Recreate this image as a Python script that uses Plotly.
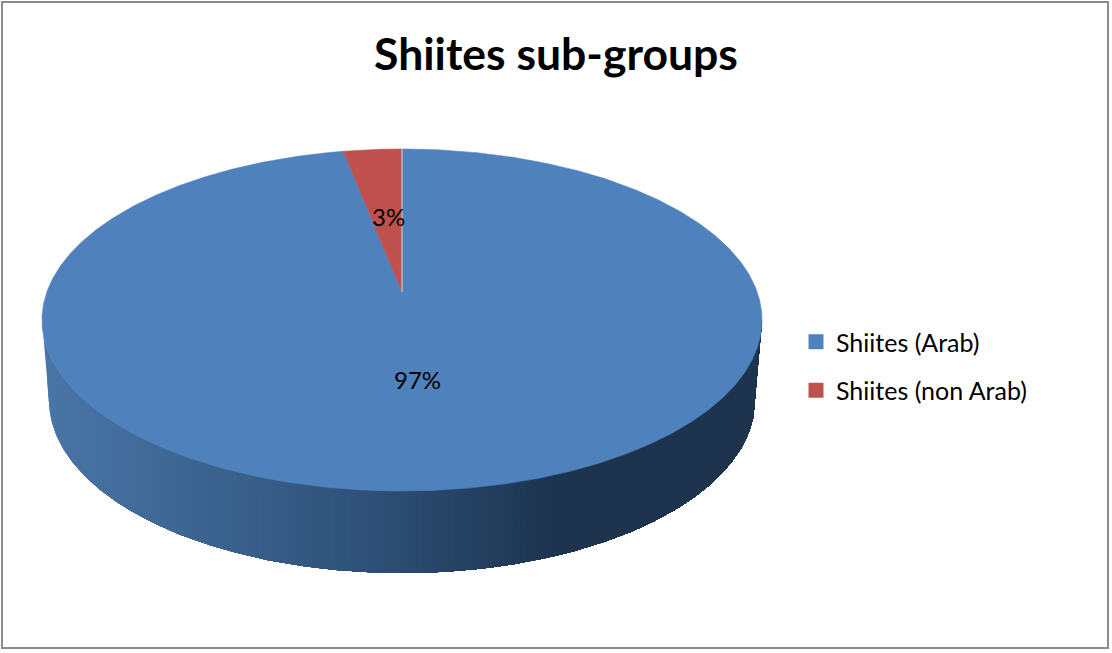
import numpy as np
import plotly.graph_objects as go

title = "Shiites sub-groups"
categories = ["Shiites (Arab)", "Shiites (non Arab)"]
values = [97.4, 2.6]
colors = ["#4f81bd", "#c0504d"]
wall_stops = [(0.0, "#4a76a8"), (0.45, "#2f5178"), (0.72, "#1d334e"), (1.0, "#1d334e")]

W, H = 1112, 653
CX, CY, RX, RY = 402, 320, 360, 171      # top face
BY, BRX, BRY = 400, 353, 173             # bottom rim
TIP_Y = 292                              # perspective centre of the top face


def hex_rgb(h):
    return np.array([int(h[i:i + 2], 16) for i in (1, 3, 5)], float)


def wall_color(f):
    for (a, ca), (b, cb) in zip(wall_stops, wall_stops[1:]):
        if f <= b:
            k = (f - a) / (b - a)
            c = hex_rgb(ca) * (1 - k) + hex_rgb(cb) * k
            return "rgb(%d,%d,%d)" % tuple(c)
    return wall_stops[-1][1]


def wall_top(x):
    return CY + RY * np.sqrt(np.clip(1 - ((x - CX) / RX) ** 2, 0, 1))


def wall_bottom(x):
    d = np.abs(x - CX)
    ell = BY + BRY * np.sqrt(np.clip(1 - (d / BRX) ** 2, 0, 1))
    side = CY + (RX - d) / (RX - BRX) * (BY - CY)
    return np.where(d <= BRX, ell, side)


fig = go.Figure()

# side wall: overlapping layers, each reaching the right edge, so no seams show
n = 140
starts = np.linspace(CX - RX, CX + RX, n, endpoint=False)
outline = CX + RX * np.sin(np.linspace(-np.pi / 2, np.pi / 2, 361))
for x0 in starts:
    xs = np.r_[x0, outline[outline > x0]]
    c = wall_color((x0 - (CX - RX)) / (2 * RX))
    fig.add_trace(go.Scatter(
        x=np.r_[xs, xs[::-1]], y=np.r_[wall_top(xs), wall_bottom(xs)[::-1]],
        mode="lines", fill="toself", fillcolor=c, line=dict(width=0),
        hoverinfo="skip", showlegend=False))

# top face: angles come from the values, clockwise from 12 o'clock
total = sum(values)
small = values[1] / total * 2 * np.pi


def arc(a0, a1, k=400):
    a = np.linspace(a0, a1, k)
    return CX + RX * np.sin(a), CY - RY * np.cos(a)


xa, ya = arc(0, 2 * np.pi - small, 800)
fig.add_trace(go.Scatter(
    x=np.r_[CX, xa, CX], y=np.r_[TIP_Y, ya, TIP_Y], mode="lines", fill="toself",
    fillcolor=colors[0], line=dict(width=0.6, color=colors[0]),
    hoverinfo="skip", showlegend=False))

xb_, yb_ = arc(2 * np.pi - small, 2 * np.pi, 40)
fig.add_trace(go.Scatter(
    x=np.r_[CX, xb_, CX], y=np.r_[TIP_Y, yb_, TIP_Y], mode="lines", fill="toself",
    fillcolor=colors[1], line=dict(width=0.6, color=colors[1]),
    hoverinfo="skip", showlegend=False))

# light divider at 12 o'clock
fig.add_trace(go.Scatter(
    x=[CX, CX], y=[TIP_Y, CY - RY], mode="lines",
    line=dict(width=1.2, color="#b9cbe2"), hoverinfo="skip", showlegend=False))

# legend entries
for i, (name, col) in enumerate(zip(categories, colors)):
    fig.add_trace(go.Scatter(
        x=[-100], y=[-100], mode="markers", name=name, legendgroup=name,
        marker=dict(symbol="square", size=15, color=col)))

# percentage labels
fig.add_annotation(x=417, y=379, text=f"{values[0]:.0f}%", showarrow=False,
                   font=dict(family="Lato", size=24, color="black"))
fig.add_annotation(x=388, y=216, text=f"{values[1]:.0f}%", showarrow=False,
                   font=dict(family="Lato", size=24, color="black"))

fig.update_layout(
    width=W, height=H, margin=dict(l=0, r=0, t=0, b=0),
    paper_bgcolor="white", plot_bgcolor="white",
    xaxis=dict(range=[0, W], visible=False, fixedrange=True),
    yaxis=dict(range=[H, 0], visible=False, fixedrange=True),
    title=dict(text=f"<b>{title}</b>", x=556 / W, y=1 - 54 / H, xanchor="center",
               yanchor="middle", font=dict(family="Lato", size=44.5, color="black")),
    legend=dict(x=796 / W, y=1 - 319 / H, xanchor="left", yanchor="top",
                font=dict(family="Lato", size=25, color="black"),
                tracegroupgap=13, bgcolor="rgba(0,0,0,0)", itemwidth=30),
    shapes=[dict(type="rect", xref="x", yref="y", x0=2, y0=2, x1=1108, y1=648,
                 line=dict(color="#8c8c8c", width=2), layer="below")],
)

fig.write_html("out.html", config=dict(displayModeBar=False),
               post_script="document.body.style.margin='0';document.body.style.overflow='hidden';")
